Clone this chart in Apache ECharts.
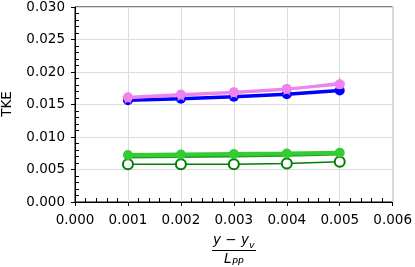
<!DOCTYPE html>
<html>
<head>
<meta charset="utf-8">
<script src="https://cdn.jsdelivr.net/npm/echarts@6/dist/echarts.min.js"></script>
<style>html,body{margin:0;padding:0;background:#fff}#c{width:415px;height:267px}</style>
</head>
<body>
<div id="c"></div>
<script>
const xValues = [0.001, 0.002, 0.003, 0.004, 0.005];
const blueFilled = [0.01565, 0.01590, 0.01620, 0.01658, 0.01715];
const violetCircle = [0.01610, 0.01655, 0.01690, 0.01740, 0.01810];
const violetStar = [0.01600, 0.01642, 0.01680, 0.01730, 0.01830];
const limeFilled = [0.00722, 0.00730, 0.00738, 0.00745, 0.00758];
const greenMid = [0.00685, 0.00692, 0.00700, 0.00712, 0.00730];
const darkGreenOpen = [0.00580, 0.00580, 0.00580, 0.00592, 0.00620];
const xTicks = ['0.000','0.001','0.002','0.003','0.004','0.005','0.006'];
const yTicks = ['0.000','0.005','0.010','0.015','0.020','0.025','0.030'];
const yName = 'TKE';

const starPath = 'path://M50,0 L61,35 L98,35 L68,57 L79,91 L50,70 L21,91 L32,57 L2,35 L39,35 Z';
const font = 'DejaVu Sans';
const fs = 13.5;
function pts(arr){ return xValues.map((x,i)=>[x, arr[i]]); }

const chart = echarts.init(document.getElementById('c'), null, {renderer:'canvas'});
const baseX = {type:'value', min:0, max:0.006, interval:0.001, gridIndex:0, position:'bottom'};
const baseY = {type:'value', min:0, max:0.030, interval:0.005, gridIndex:0, position:'left'};
chart.setOption({
  animation:false,
  grid:{left:75, right:20, top:5, bottom:65, show:true, borderColor:'#000', borderWidth:1, containLabel:false},
  xAxis:[
    Object.assign({}, baseX, {
      axisLine:{show:true, lineStyle:{color:'#000', width:1}},
      axisTick:{show:true, inside:false, length:4, lineStyle:{color:'#000', width:1}},
      axisLabel:{show:true, margin:11, fontFamily:font, fontSize:fs, color:'#000', formatter:(v)=>xTicks[Math.round(v/0.001)]},
      splitLine:{show:true, lineStyle:{color:'#dcdcdc', width:1}}
    }),
    Object.assign({}, baseX, {
      axisLine:{show:false},
      axisTick:{show:false, inside:true},
      axisLabel:{show:false},
      splitLine:{show:false},
      minorTick:{show:true, splitNumber:5, length:4, lineStyle:{color:'#000', width:1}}
    })
  ],
  yAxis:[
    Object.assign({}, baseY, {
      axisLine:{show:true, lineStyle:{color:'#000', width:1}},
      axisTick:{show:true, inside:false, length:4, lineStyle:{color:'#000', width:1}},
      axisLabel:{show:true, margin:10, fontFamily:font, fontSize:fs, color:'#000', formatter:(v)=>yTicks[Math.round(v/0.005)]},
      splitLine:{show:true, lineStyle:{color:'#dcdcdc', width:1}}
    }),
    Object.assign({}, baseY, {
      axisLine:{show:false},
      axisTick:{show:false, inside:true},
      axisLabel:{show:false},
      splitLine:{show:false},
      minorTick:{show:true, splitNumber:5, length:4, lineStyle:{color:'#000', width:1}}
    })
  ],
  series:[
    {type:'line', data:pts(darkGreenOpen), symbol:'emptyCircle', symbolSize:10, lineStyle:{color:'#008000', width:1.5}, itemStyle:{color:'#008000', borderWidth:2}, z:2},
    {type:'line', data:pts(greenMid), symbol:'circle', symbolSize:5, lineStyle:{color:'#1f9e1f', width:2}, itemStyle:{color:'#1f9e1f'}, z:3},
    {type:'line', data:pts(limeFilled), symbol:'circle', symbolSize:10, lineStyle:{color:'#32cd32', width:4}, itemStyle:{color:'#32cd32'}, z:4},
    {type:'line', data:pts(blueFilled), symbol:'circle', symbolSize:10, lineStyle:{color:'#0000ff', width:3.5}, itemStyle:{color:'#0000ff'}, z:5},
    {type:'line', data:pts(violetStar), symbol:starPath, symbolSize:12, lineStyle:{color:'#ee82ee', width:2.5}, itemStyle:{color:'#ee82ee'}, z:6},
    {type:'line', data:pts(violetCircle), symbol:'circle', symbolSize:10, lineStyle:{color:'#ee82ee', width:3}, itemStyle:{color:'#ee82ee'}, z:7}
  ],
  graphic:[
    {type:'text', x:7, y:104, rotation:Math.PI/2, style:{text:yName, font:fs+'px "DejaVu Sans"', fill:'#000', align:'center', verticalAlign:'middle'}},
    {type:'text', left:213, top:233, style:{text:'y − y', font:'italic 13.5px "DejaVu Sans"', fill:'#000'}},
    {type:'text', left:249, top:241, style:{text:'v', font:'italic 9.5px "DejaVu Sans"', fill:'#000'}},
    {type:'line', shape:{x1:212, y1:250.5, x2:256, y2:250.5}, style:{stroke:'#000', lineWidth:1}},
    {type:'text', left:224, top:252, style:{text:'L', font:'italic 13.5px "DejaVu Sans"', fill:'#000'}},
    {type:'text', left:232, top:258, style:{text:'PP', font:'italic 9.5px "DejaVu Sans"', fill:'#000'}}
  ]
});
</script>
</body>
</html>
